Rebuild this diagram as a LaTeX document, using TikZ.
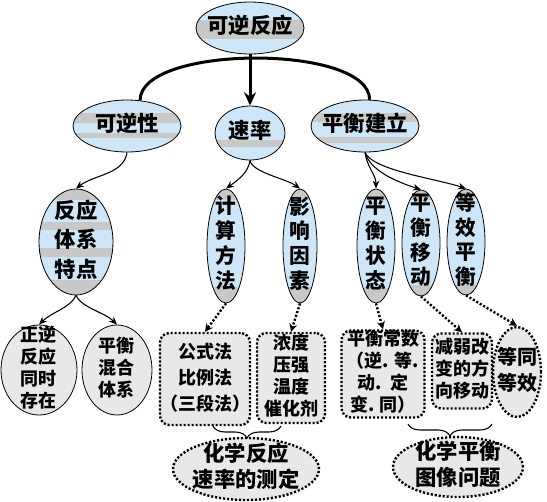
\documentclass[tikz,border=0pt]{standalone}
\usepackage{fontspec}
\setmainfont{Noto Sans CJK SC}
\usetikzlibrary{arrows.meta, positioning, shapes.geometric, calc, decorations.pathreplacing}

\definecolor{bblue}{RGB}{205,230,248}
\definecolor{bgray}{RGB}{200,200,200}
\definecolor{lgray}{RGB}{232,232,232}

% text sizes
\newcommand{\fa}{\fontsize{16pt}{20pt}\selectfont\bfseries}
\newcommand{\fb}{\fontsize{16pt}{22pt}\selectfont\bfseries}
\newcommand{\fc}{\fontsize{15.5pt}{18pt}\selectfont\bfseries}
\newcommand{\fd}{\fontsize{13.5pt}{16.5pt}\selectfont\bfseries}
\newcommand{\fe}{\fontsize{13.5pt}{19.5pt}\selectfont\bfseries}
\newcommand{\ff}{\fontsize{13.5pt}{16.5pt}\selectfont\bfseries}
\newcommand{\fg}{\fontsize{15pt}{20pt}\selectfont\bfseries}
\newcommand{\fh}{\fontsize{16pt}{19pt}\selectfont\bfseries}
% centred text of no size, so the shape keeps its own size
\newcommand{\ctext}[1]{\sbox0{\begin{tabular}{@{}c@{}}#1\end{tabular}}%
  \makebox[0pt]{\raisebox{\dimexpr(\dp0-\ht0)/2\relax}[0pt][0pt]{\usebox0}}}

\begin{document}
\begin{tikzpicture}[x=0.75pt, y=-0.75pt,
  bubble/.style={ellipse, draw, line width=0.6pt, fill=bblue, inner sep=0pt,
    path picture={\foreach \a/\b in {#1}
      \fill[bgray] ($(path picture bounding box.west)+(0,\a)$) rectangle ($(path picture bounding box.east)+(0,\b)$);}},
  gbub/.style={ellipse, draw, line width=0.6pt, fill=lgray, inner sep=0pt},
  dotline/.style={line width=1.8pt, dash pattern=on 1.6pt off 1.4pt},
  dbox/.style={rectangle, rounded corners=7pt, draw, dotline, fill=lgray, inner sep=0pt},
  dbub/.style={ellipse, draw, dotline, fill=lgray, inner sep=0pt},
  link/.style={-{Stealth[length=6pt,width=5pt]}, line width=0.8pt},
  dlink/.style={-{Stealth[length=6pt,width=6pt]}, dotline},
  brc/.style={decorate, decoration={brace, mirror, amplitude=9pt}, line width=0.8pt}]
  \useasboundingbox (0,0) rectangle (547,501);

  % top levels
  \node[bubble={-8/11}, minimum width=81pt, minimum height=39pt, font=\fa] (fy) at (250,28) {\ctext{可逆反应}};
  \node[bubble={-13/-3,7/12}, minimum width=81pt, minimum height=39pt, font=\fa] (kn) at (127,126) {\ctext{可逆性}};
  \node[bubble={7/14}, minimum width=52.5pt, minimum height=40.5pt, font=\fa] (sl) at (250,133) {\ctext{速率}};
  \node[bubble={-13/-4,11/17}, minimum width=81pt, minimum height=39pt, font=\fa] (ph) at (365,126) {\ctext{平衡建立}};

  \draw[line width=2.25pt] (kn.63) .. controls +(0,-56) and +(0,-56) .. (ph.80);
  \draw[-{Stealth[length=10pt,width=9pt]}, line width=2.25pt] (fy.south) -- (sl.north);

  % third level
  \node[bubble={-60/-42,-20/-12,6/15,38/60}, minimum width=55.5pt, minimum height=79.5pt, font=\fb] (tx) at (76,242) {\ctext{反应\\体系\\特点}};
  \node[bubble={-60/-46,41/60}, minimum width=28.5pt, minimum height=85.5pt, font=\fc] (js) at (226,246) {\ctext{计\\算\\方\\法}};
  \node[bubble={-60/-46,41/60}, minimum width=25.5pt, minimum height=85.5pt, font=\fc] (yx) at (300,246) {\ctext{影\\响\\因\\素}};
  \node[bubble={-60/-46,42/60}, minimum width=28.5pt, minimum height=85.5pt, font=\fc] (zt) at (376,246) {\ctext{平\\衡\\状\\态}};
  \node[bubble={-60/-43,42/60}, minimum width=28.5pt, minimum height=79.5pt, font=\fc] (yd) at (421,243) {\ctext{平\\衡\\移\\动}};
  \node[bubble={-60/-43,43/60}, minimum width=28.5pt, minimum height=79.5pt, font=\fc] (dx) at (466,242) {\ctext{等\\效\\平\\衡}};

  \draw[link] (kn.south) .. controls +(-3,22) and +(18,-14) .. (tx.north);
  \draw[link] (sl.south) .. controls +(-2,12) and +(14,-10) .. (js.north);
  \draw[link] (sl.south) .. controls +(2,12) and +(-14,-10) .. (yx.north);
  \draw[link] (ph.south) .. controls +(2,15) and +(0,-14) .. (zt.north);
  \draw[link] (ph.south) .. controls +(5,18) and +(-25,-8) .. (yd.north);
  \draw[link] (ph.south) .. controls +(8,18) and +(-30,-10) .. (dx.north);

  % fourth level
  \node[gbub, minimum width=57pt, minimum height=67.5pt, font=\fd] (zn) at (39,370) {\ctext{正逆\\反应\\同时\\存在}};
  \node[gbub, minimum width=52.5pt, minimum height=67.5pt, font=\fd] (hh) at (117,370) {\ctext{平衡\\混合\\体系}};
  \node[dbox, minimum width=67.5pt, minimum height=69pt, font=\fe] (gs) at (205,379) {\ctext{公式法\\比例法\\（三段法）}};
  \node[dbox, minimum width=51pt, minimum height=67.5pt, font=\ff] (nd) at (291,378) {\ctext{浓度\\压强\\温度\\催化剂}};
  \node[dbox, minimum width=62.25pt, minimum height=65.25pt, font=\ff] (cs) at (383,374) {\ctext{平衡常数\\（逆. 等.\\动.\ \ 定\\变. 同）}};
  \node[dbox, minimum width=45pt, minimum height=56.25pt, font=\ff] (jr) at (462,371) {\ctext{减弱改\\变的方\\向移动}};
  \node[dbub, minimum width=36pt, minimum height=67.5pt, font=\fg] (dd) at (517,372) {\ctext{等同\\等效}};

  \draw[link] (tx.south) .. controls +(-5,12) and +(12,-12) .. (zn.north);
  \draw[link] (tx.south) .. controls +(5,12) and +(-12,-12) .. (hh.north);
  \draw[dlink] (js.south) -- (gs.north);
  \draw[dlink] (yx.south) -- (nd.north);
  \draw[dlink] (zt.south) -- (cs.north);
  \draw[dlink] (yd.south) -- (jr.north);
  \draw[dlink] (dx.south) -- (dd.north);

  % bottom
  \node[dbub, minimum width=109.5pt, minimum height=46.5pt, font=\fh] (cd) at (246,469) {\ctext{化学反应\\速率的测定}};
  \node[dbub, minimum width=97.5pt, minimum height=45pt, font=\fh] (tp) at (458,467) {\ctext{化学平衡\\图像问题}};

  \coordinate (b1a) at (213,426);
  \coordinate (b1b) at (281,426);
  \coordinate (b2a) at (408,424);
  \coordinate (b2b) at (492,424);
  \draw[brc] (b1a) -- (b1b);
  \draw[brc] (b2a) -- (b2b);
\end{tikzpicture}
\end{document}
